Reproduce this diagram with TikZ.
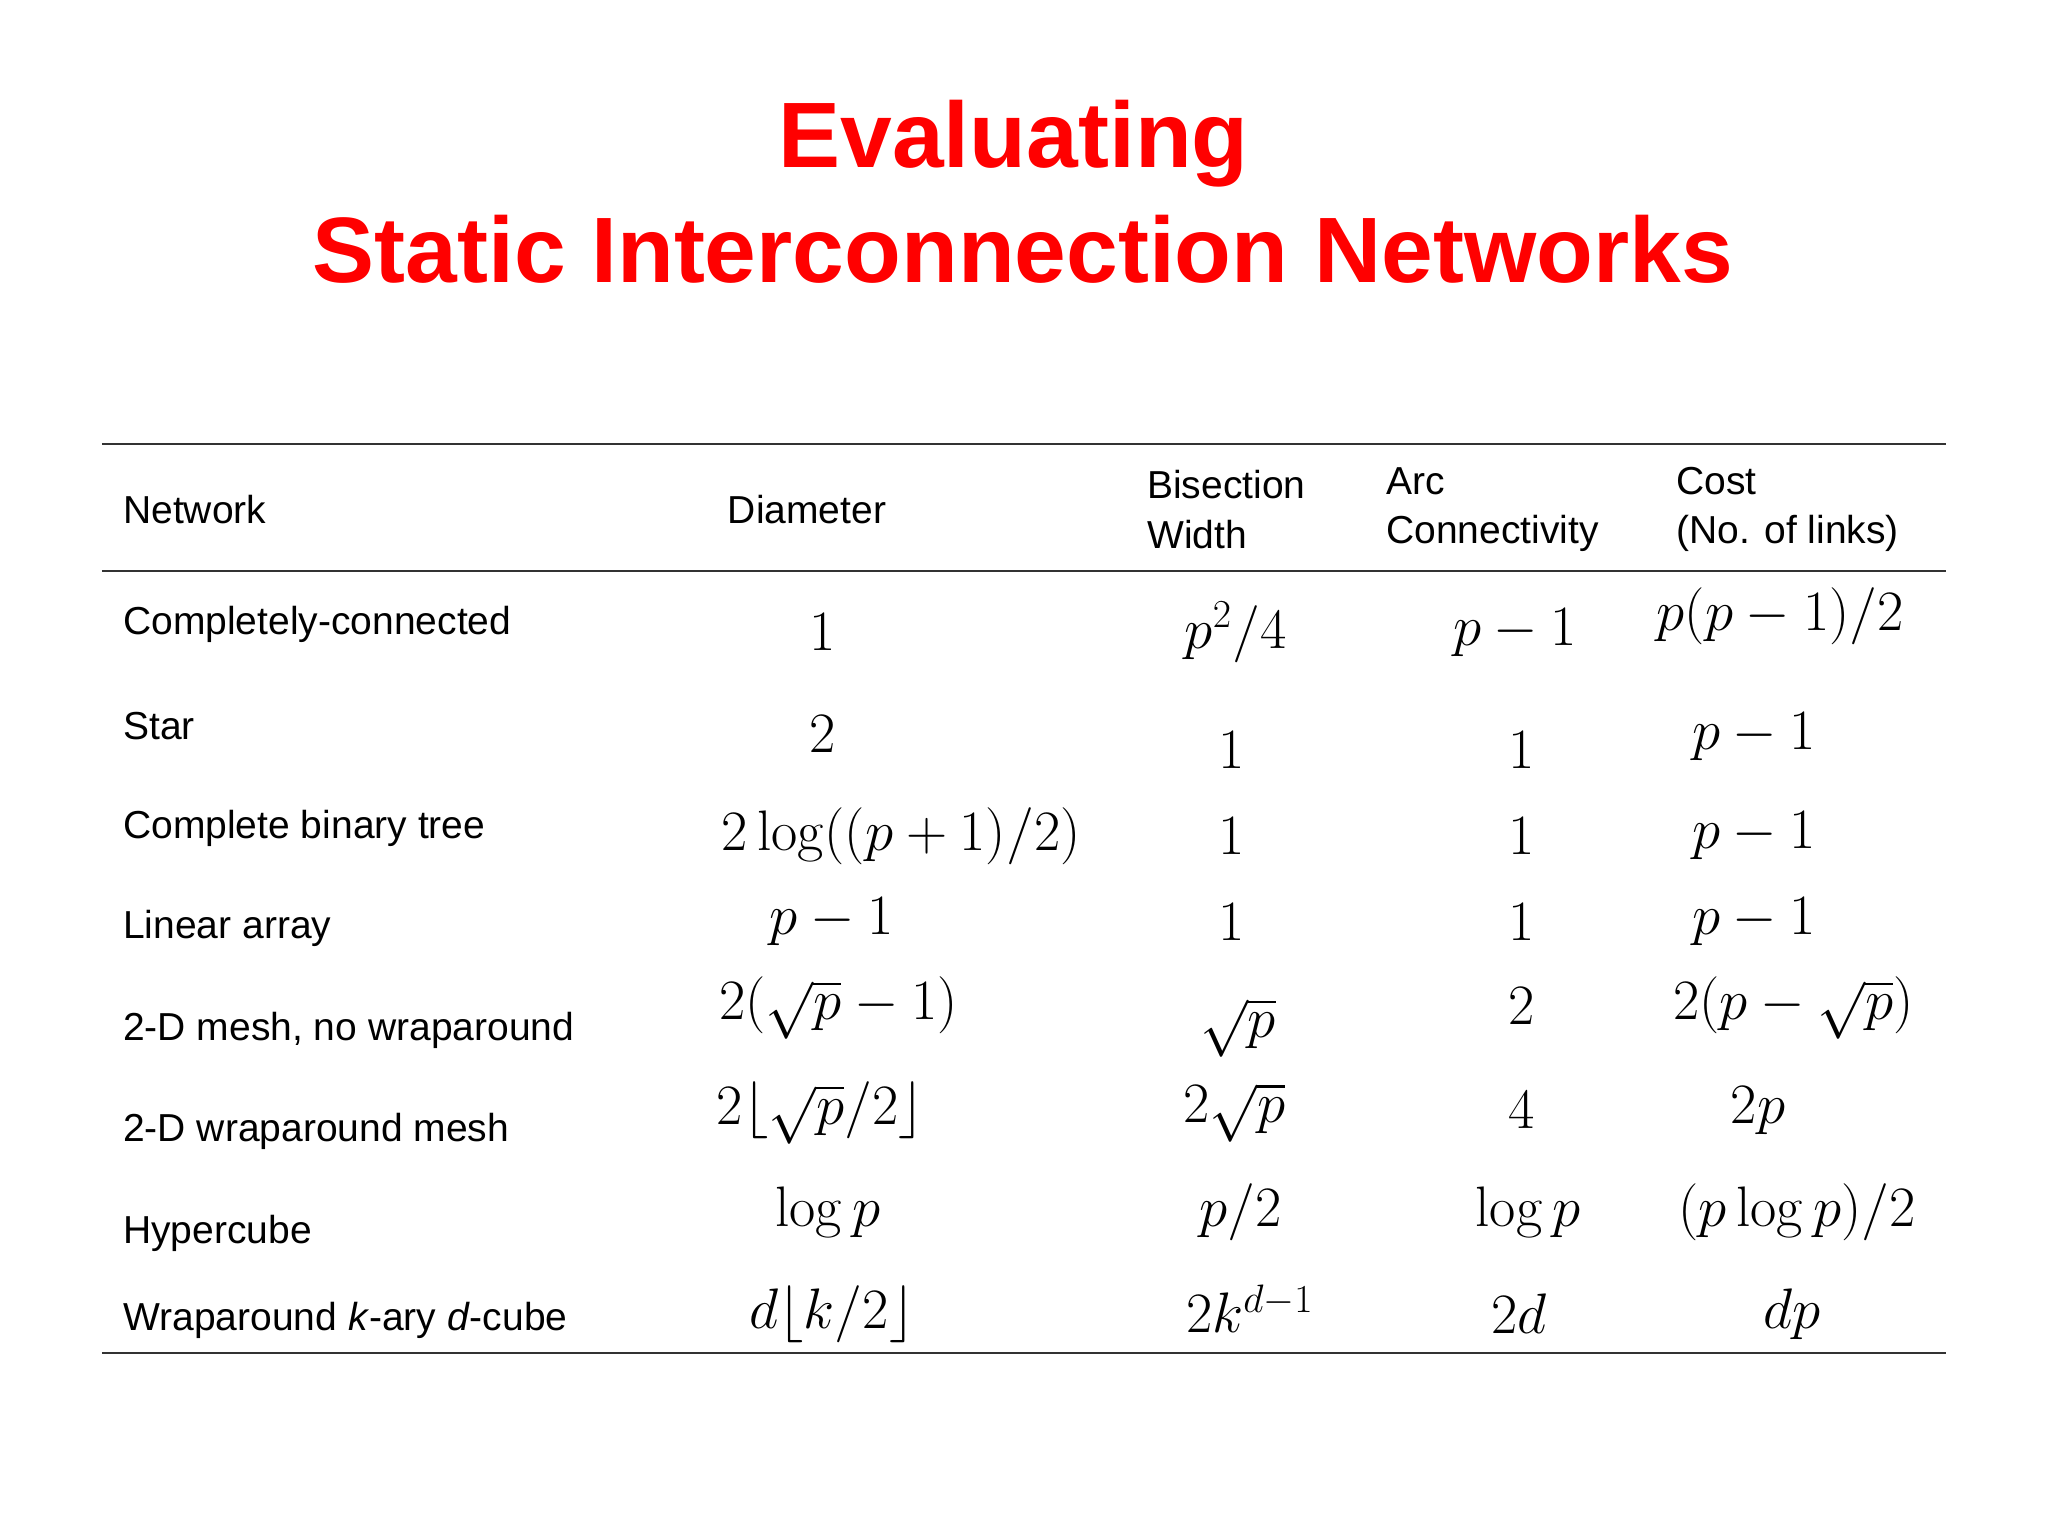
\documentclass[tikz,border=0pt]{standalone}
\usepackage[no-math]{fontspec}
\newfontfamily\arial{Liberation Sans}
\begin{document}
\begin{tikzpicture}[x=0.02cm,y=-0.02cm,
  txt/.style={font=\arial\fontsize{17}{21.5}\selectfont,anchor=west,inner sep=0pt},
  hd/.style={txt,align=left},
  mth/.style={font=\fontsize{24}{29}\selectfont,inner sep=0pt},
  ttl/.style={font=\arial\bfseries\fontsize{40.5}{48}\selectfont,text=red,inner sep=0pt},
  rule/.style={line width=0.8pt,draw=black!80}]
\useasboundingbox (0,0) rectangle (1568,1176);
\node[ttl] (t1) at (776,110) {Evaluating};
\node[ttl] (t2) at (783,191) {Static Interconnection Networks};
\coordinate (a1) at (78,340); \coordinate (b1) at (1490,340);
\coordinate (a2) at (78,437); \coordinate (b2) at (1490,437);
\coordinate (a3) at (78,1036); \coordinate (b3) at (1490,1036);
\draw[rule] (a1)--(b1); \draw[rule] (a2)--(b2); \draw[rule] (a3)--(b3);
% headers
\node[txt] (h1) at (94,390) {Network};
\node[txt] (h2) at (557,390) {Diameter};
\node[hd] (h3) at (878,390) {Bisection\\Width};
\node[hd] (h4) at (1061,390) {Arc\\Connectivity};
\node[hd] (h5) at (1283,390) {Cost\\(No. of links)};
% row labels
\node[txt] (r1) at (94,478) {Completely-connected};
\node[txt] (r2) at (94,556) {Star};
\node[txt] (r3) at (94,634) {Complete binary tree};
\node[txt] (r4) at (94,711) {Linear array};
\node[txt] (r5) at (94,789) {2-D mesh, no wraparound};
\node[txt] (r6) at (94,866) {2-D wraparound mesh};
\node[txt] (r7) at (94,944) {Hypercube};
\node[txt] (r8) at (94,1011) {Wraparound \textit{k}-ary \textit{d}-cube};
% row 1
\node[mth] (m11) at (630,484) {$1$};
\node[mth] (m12) at (946,484) {$p^2/4$};
\node[mth] (m13) at (1160,484) {$p-1$};
\node[mth] (m14) at (1363,472) {$p(p-1)/2$};
% row 2
\node[mth] (m21) at (630,562) {$2$};
\node[mth] (m22) at (943,574) {$1$};
\node[mth] (m23) at (1165,574) {$1$};
\node[mth] (m24) at (1343,564) {$p-1$};
% row 3
\node[mth] (m31) at (690,640) {$2\log((p+1)/2)$};
\node[mth] (m32) at (943,640) {$1$};
\node[mth] (m33) at (1165,640) {$1$};
\node[mth] (m34) at (1343,640) {$p-1$};
% row 4
\node[mth] (m41) at (637,706) {$p-1$};
\node[mth] (m42) at (943,706) {$1$};
\node[mth] (m43) at (1165,706) {$1$};
\node[mth] (m44) at (1343,706) {$p-1$};
% row 5
\node[mth] (m51) at (642,772) {$2(\sqrt{p}-1)$};
\node[mth] (m52) at (948,787) {$\sqrt{p}$};
\node[mth] (m53) at (1165,770) {$2$};
\node[mth] (m54) at (1373,772) {$2(p-\sqrt{p})$};
% row 6
\node[mth] (m61) at (628,852) {$2\lfloor\sqrt{p}/2\rfloor$};
\node[mth] (m62) at (945,852) {$2\sqrt{p}$};
\node[mth] (m63) at (1165,850) {$4$};
\node[mth] (m64) at (1346,850) {$2p$};
% row 7
\node[mth] (m71) at (634,928) {$\log p$};
\node[mth] (m72) at (950,928) {$p/2$};
\node[mth] (m73) at (1170,928) {$\log p$};
\node[mth] (m74) at (1376,928) {$(p\log p)/2$};
% row 8
\node[mth] (m81) at (637,1006) {$d\lfloor k/2\rfloor$};
\node[mth] (m82) at (957,1002) {$2k^{d-1}$};
\node[mth] (m83) at (1163,1006) {$2d$};
\node[mth] (m84) at (1372,1006) {$dp$};
\end{tikzpicture}
\end{document}
